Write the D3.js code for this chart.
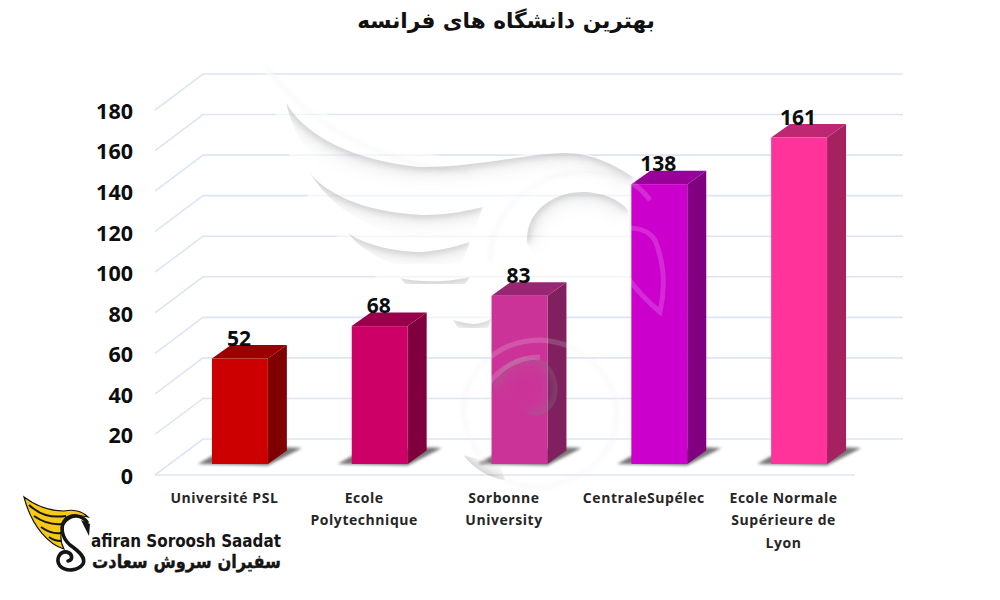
<!DOCTYPE html>
<html>
<head>
<meta charset="utf-8">
<script src="https://cdn.jsdelivr.net/npm/d3@7/dist/d3.min.js"></script>
<style>
  html, body { margin: 0; background: #fff; }
  svg { display: block; }
</style>
</head>
<body>
<svg id="chart" width="1000" height="600"></svg>
<script>
// chart data
var chartTitle = "بهترین دانشگاه های فرانسه";
var universities = ["Université PSL", "Ecole Polytechnique", "Sorbonne University", "CentraleSupélec", "Ecole Normale Supérieure de Lyon"];
var scores = [52, 68, 83, 138, 161];
var yTicks = [0, 20, 40, 60, 80, 100, 120, 140, 160, 180];
var nameLines = [["Université PSL"], ["Ecole", "Polytechnique"], ["Sorbonne", "University"], ["CentraleSupélec"], ["Ecole Normale", "Supérieure de", "Lyon"]];
var frontColors = ["#cc0000", "#cc0066", "#cc3399", "#cc00cc", "#ff3399"];
var sideColors = ["#800000", "#80003f", "#80205f", "#800080", "#a62160"];
var topColors = ["#990000", "#99004c", "#992673", "#990099", "#bf2673"];

var svg = d3.select("#chart");
var defs = svg.append("defs");
var blur = function(id, s) {
  defs.append("filter").attr("id", id)
    .attr("x", "-30%").attr("y", "-60%").attr("width", "160%").attr("height", "220%")
    .append("feGaussianBlur").attr("stdDeviation", s);
};
blur("b1", 1.5);
blur("b2", 2);
blur("b3", 3);
blur("b8", 8);

// depth of the 3d box and of the chart floor
var barDx = 19, barDy = 13.5;
var wallDx = 48, wallDy = 36;

var x = d3.scaleBand().domain(universities).range([170, 869]).paddingInner(0.6).paddingOuter(0.3);
var yBar = d3.scaleLinear().domain([0, 180]).range([464, 99]);
var yWall = d3.scaleLinear().domain([0, 180]).range([439, 74]);
var yAxis = d3.scaleLinear().domain([0, 180]).range([475, 110]);

// back wall + side wall grid lines
var grid = svg.append("g").attr("fill", "none").attr("stroke", "#dce6f2").attr("stroke-width", 1.6);
grid.selectAll("path").data(yTicks).enter().append("path")
  .attr("d", function(d) {
    var p = d3.path();
    p.moveTo(203 - wallDx, yWall(d) + wallDy);
    p.lineTo(203, yWall(d));
    p.lineTo(903, yWall(d));
    return p.toString();
  });
// front edge of the floor
grid.append("line").attr("x1", 155).attr("x2", 855).attr("y1", yAxis(0)).attr("y2", yAxis(0));

// watermark wing body, under the bars it washes the grid out
svg.append("path").attr("fill", "#fff").attr("opacity", 0.6)
  .attr("d", "M265,65 C272,105 280,140 292,160 C305,200 325,225 370,272 C400,300 440,335 480,350 L520,320 L640,290 L650,190 C610,150 560,145 520,155 C440,170 340,140 265,65 Z");

// tick labels
var axis = svg.append("g").attr("transform", "translate(133,1.5)")
  .call(d3.axisLeft(yAxis).tickValues(yTicks).tickSize(0).tickPadding(0));
axis.select(".domain").remove();
axis.selectAll("text")
  .attr("font-family", "'Open Sans', sans-serif")
  .attr("font-weight", 700).attr("font-size", 21.5).attr("fill", "#0d0d0d");

// bars
var bars = svg.append("g").selectAll("g").data(universities).enter().append("g");
var pts = function(a) { return a.map(function(p) { return p.join(","); }).join(" "); };

bars.append("polygon").attr("fill", "#555").attr("opacity", 0.8).attr("filter", "url(#b1)")
  .attr("points", function(d) {
    var l = x(d), r = l + x.bandwidth(), b = yBar(0);
    return pts([[l - 14, b], [r, b + 1.5], [r + 34, b - 16], [r + 12, b - 17], [l, b - 8]]);
  });
bars.append("polygon").attr("fill", function(d, i) { return sideColors[i]; })
  .attr("points", function(d, i) {
    var r = x(d) + x.bandwidth(), t = yBar(scores[i]), b = yBar(0);
    return pts([[r, t], [r + barDx, t - barDy], [r + barDx, b - barDy], [r, b]]);
  });
bars.append("polygon").attr("fill", function(d, i) { return topColors[i]; })
  .attr("points", function(d, i) {
    var l = x(d), r = l + x.bandwidth(), t = yBar(scores[i]);
    return pts([[l, t], [l + barDx, t - barDy], [r + barDx, t - barDy], [r, t]]);
  });
bars.append("rect").attr("fill", function(d, i) { return frontColors[i]; })
  .attr("x", function(d) { return x(d); })
  .attr("width", x.bandwidth())
  .attr("y", function(d, i) { return yBar(scores[i]); })
  .attr("height", function(d, i) { return yBar(0) - yBar(scores[i]); });

// watermark shading: crisp on the curve, fading away from it
var wmCurves = [
  { c: "M286,102 C300,130 345,160 420,167 C470,168 525,154 563,153 C590,152 615,165 633,177", close: "L633,235 L430,222 C370,215 300,170 286,102 Z" },
  { c: "M310,173 C325,192 360,212 423,215 C450,215 470,210 483,207", close: "L470,240 C400,245 340,222 310,173 Z" },
  { c: "M348,233 C365,245 395,252 423,252 C445,250 460,245 470,242", close: "L460,268 C420,278 370,262 348,233 Z" },
  { c: "M400,278 C420,283 450,282 470,277", close: "L455,300 C435,305 415,296 400,278 Z" },
  { c: "M453,320 C470,325 480,326 492,318", close: "L485,338 C470,340 460,332 453,320 Z" },
  { c: "M527,243 C525,210 555,192 583,192 C600,192 618,198 628,210", close: "L640,270 L560,300 L527,243 Z" },
  { c: "M493,387 C500,365 515,357 527,357 C550,357 562,378 556,400 C550,415 535,418 528,414", close: "L500,400 Z" },
  { c: "M463,455 C475,470 490,478 505,480", close: "L500,465 Z" }
];
var wm = svg.append("g").attr("fill", "none");
wmCurves.forEach(function(s, i) {
  defs.append("clipPath").attr("id", "wmClip" + i).append("path").attr("d", s.c + " " + s.close);
  var g = wm.append("g").attr("clip-path", "url(#wmClip" + i + ")");
  g.append("path").attr("d", s.c)
    .attr("stroke", "#888").attr("stroke-width", 16).attr("stroke-opacity", 0.18)
    .attr("filter", "url(#b8)");
  g.append("path").attr("d", s.c)
    .attr("stroke", "#777").attr("stroke-width", 5).attr("stroke-opacity", 0.34)
    .attr("filter", "url(#b3)");
});
var faintLines = [
  "M490,260 C490,215 530,170 590,172 C615,172 635,180 650,200",
  "M463,413 C463,370 500,340 540,340 C585,342 617,380 617,413 C617,450 590,480 540,488 C500,488 470,455 463,413",
  "M480,413 C480,380 510,357 540,357",
  "M575,320 C600,350 625,385 617,430",
  "M612,235 C620,225 645,225 655,240 C665,265 665,290 660,312 C640,295 615,270 612,235"
];
wm.selectAll(".faint").data(faintLines).enter().append("path").attr("class", "faint")
  .attr("d", String).attr("stroke", "#fff").attr("stroke-width", 5).attr("stroke-opacity", 0.16);
wm.selectAll(".edge").data(faintLines.slice(0, 2).concat(["M265,65 C300,115 370,165 470,172"])).enter().append("path").attr("class", "edge")
  .attr("d", String).attr("stroke", "#999").attr("stroke-width", 1).attr("stroke-opacity", 0.25).attr("filter", "url(#b2)");

// value labels
svg.append("g").selectAll("text").data(universities).enter().append("text")
  .attr("x", function(d) { return x(d) + x.bandwidth() / 2 - 1; })
  .attr("y", function(d, i) { return yBar(scores[i]) - 13; })
  .attr("text-anchor", "middle")
  .attr("font-family", "'Open Sans', sans-serif")
  .attr("font-weight", 700).attr("font-size", 21).attr("fill", "#0d0d0d")
  .text(function(d, i) { return scores[i]; });

// category labels sit a little left of their bars
var names = svg.append("g").selectAll("text").data(nameLines).enter().append("text")
  .attr("text-anchor", "middle")
  .attr("font-family", "'Open Sans', sans-serif")
  .attr("font-weight", 700).attr("font-size", 14).attr("letter-spacing", 0.55).attr("fill", "#262626");
names.selectAll("tspan").data(function(d, i) {
    return d.map(function(t) { return { text: t, cx: x(universities[i]) + x.bandwidth() / 2 - 15.5 }; });
  }).enter().append("tspan")
  .attr("x", function(d) { return d.cx; })
  .attr("y", function(d, i) { return 502.5 + i * 22.5; })
  .text(function(d) { return d.text; });

// title
svg.append("text").attr("x", 506).attr("y", 28).attr("text-anchor", "middle")
  .attr("direction", "rtl")
  .attr("font-family", "'DejaVu Sans', sans-serif")
  .attr("font-weight", 700).attr("font-size", 21.6).attr("fill", "#111")
  .text(chartTitle);

// company logo
var logo = svg.append("g");
logo.append("path").attr("fill", "#f5c916").attr("stroke", "#151515").attr("stroke-width", 1.2)
  .attr("d", "M24,497 C36,506 50,511 64,511 C74,509 82,511 88,517 C76,514 66,518 62,528 C60,536 60,542 64,549 C50,545 32,528 24,497 Z");
logo.append("g").attr("fill", "none").attr("stroke", "#151515").attr("stroke-width", 2)
  .selectAll("path")
  .data(["M29,505 C40,515 50,518 66,516", "M34,516 C44,523 52,525 62,524", "M41,527 C48,532 54,534 61,533", "M49,537 C53,540 57,541 61,541"])
  .enter().append("path").attr("d", String);
logo.append("path").attr("fill", "none").attr("stroke", "#151515").attr("stroke-width", 3.6)
  .attr("stroke-linecap", "round")
  .attr("d", "M87,522 C82,515 72,514 66,519 C59,526 62,538 70,545 C80,552 86,558 83,564 C78,571 66,572 60,566 C55,559 60,551 67,552 C73,554 73,560 68,561");
logo.append("path").attr("fill", "#151515").attr("d", "M81,520 L90,524 L89,536 Z");
logo.append("text").attr("x", 91).attr("y", 547)
  .attr("font-family", "'DejaVu Sans', sans-serif").attr("font-weight", 700).attr("font-size", 17)
  .attr("fill", "#151515").attr("textLength", 190).attr("lengthAdjust", "spacingAndGlyphs")
  .text("afiran Soroosh Saadat");
// persian line is stretched to the width of the latin one
var logoFa = logo.append("text")
  .attr("direction", "rtl").attr("text-anchor", "start")
  .attr("font-family", "'DejaVu Sans', sans-serif").attr("font-weight", 700).attr("font-size", 19)
  .attr("fill", "#151515").attr("stroke", "#151515").attr("stroke-width", 0.4)
  .text("سفیران سروش سعادت");
var faWidth = logoFa.node().getComputedTextLength();
logoFa.attr("transform", "translate(281,568) scale(" + (189 / faWidth) + ",1)");
</script>
</body>
</html>
